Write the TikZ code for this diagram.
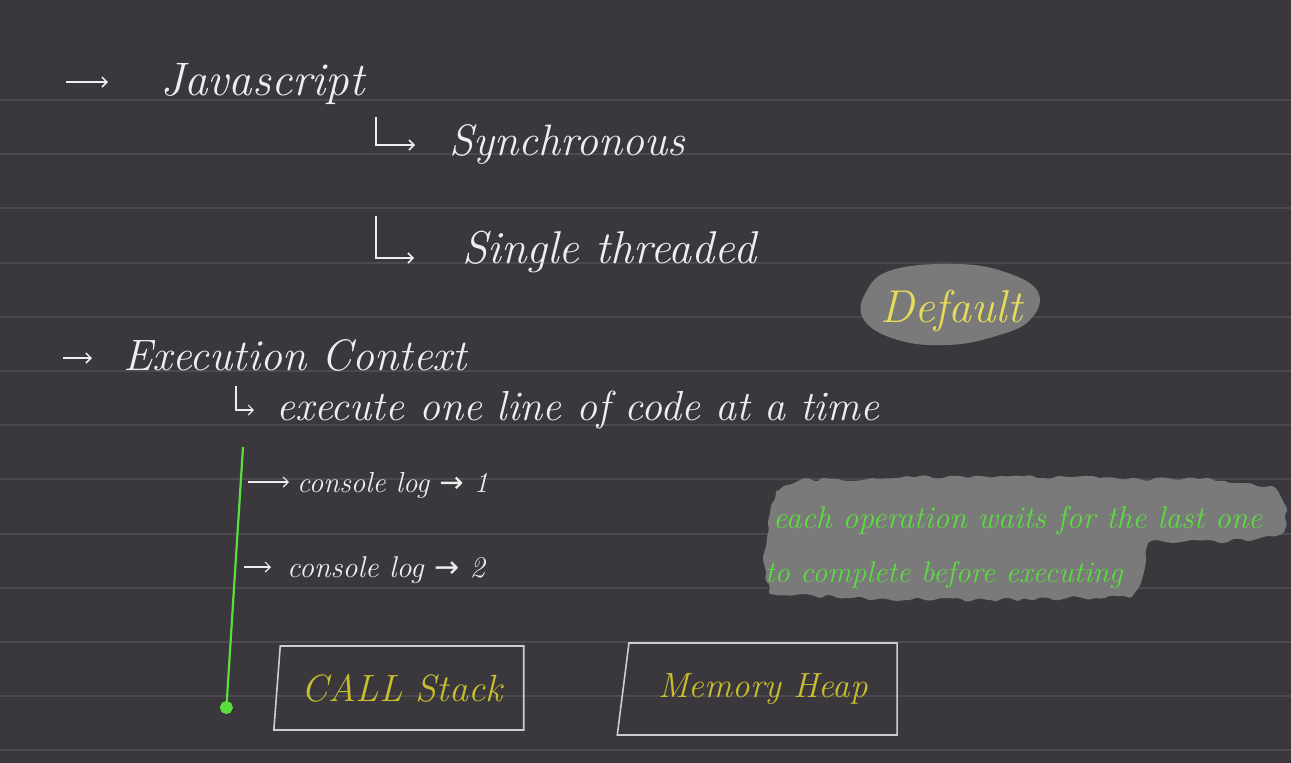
\documentclass[tikz,border=0pt]{standalone}
\usepackage{fontspec}
\newfontfamily\arrowfont{DejaVu Sans}
\definecolor{boardbg}{RGB}{58,56,60}
\definecolor{boardline}{RGB}{76,74,78}
\definecolor{chalk}{RGB}{238,238,238}
\definecolor{chalkyellow}{RGB}{230,220,90}
\definecolor{boxyellow}{RGB}{200,190,45}
\definecolor{chalkgreen}{RGB}{90,222,62}
\definecolor{smudge}{RGB}{122,122,122}
\definecolor{boxedge}{RGB}{205,205,205}
\usetikzlibrary{arrows.meta,positioning,shapes.geometric,decorations.pathmorphing}
\newcommand{\chalksize}[1]{\fontsize{#1}{#1}\selectfont}
\newcommand{\chalkarrow}{{\arrowfont\char"2192}}

\begin{document}
\begin{tikzpicture}[x=1pt, y=-1pt,
    note/.style={anchor=base west, inner sep=0pt, text=chalk, font=\itshape},
    hand/.style={-{Straight Barb[length=5pt,width=10pt]}, line width=1.5pt, chalk},
    flow/.style={-{Circle[length=13pt]}, line width=2.2pt, chalkgreen},
    codebox/.style={trapezium, trapezium stretches=true, trapezium right angle=90,
      draw=boxedge, line width=1.6pt, text=boxyellow, font=\itshape\chalksize{35}},
    blob/.style={fill=smudge, decorate, decoration={random steps, segment length=7pt, amplitude=2.5pt}, rounded corners=2pt},
    rule/.style={boardline, line width=2pt}
  ]
    % Board and ruling
    \fill[boardbg] (0,0) rectangle (1291,763);
    \useasboundingbox (0,0) rectangle (1291,763);
    \foreach \k in {0,...,12}
      \draw[rule] (0,{100+54.2*\k}) -- (1291,{100+54.2*\k});

    % Highlight smudges
    \fill[smudge] plot[smooth cycle, tension=0.7] coordinates {(866,292) (892,270) (955,264) (1005,272) (1038,292) (1030,320) (996,336) (948,345) (898,340) (864,320)};
    \path[blob] (776,492) -- (800,480) -- (1000,476) -- (1200,479) -- (1272,486) -- (1287,508) -- (1284,532)
      -- (1250,541) -- (1150,541) -- (1144,572) -- (1132,597) -- (990,600) -- (850,598) -- (770,594) -- (763,560) -- (768,522) -- cycle;

    % Javascript
    \node[note, font=\itshape\chalksize{47}] (js) at (160,95) {Javascript};
    \node[note, font=\itshape\chalksize{44}] (syn) at (449,155) {Synchronous};
    \node[note, font=\itshape\chalksize{46}] (sgl) at (462,263) {Single threaded};
    \node[note, text=chalkyellow, font=\itshape\chalksize{46}] (dflt) at (880,322) {Default};
    \coordinate (b1) at (66,82);
    \coordinate (h1) at (376,117);
    \coordinate (h2) at (376,216);
    \draw[hand] (b1) -- (b1 -| js.west) [shorten >=52pt];
    \draw[hand, shorten >=34pt] (h1) |- (h1 |- 0,145) -- (syn.west |- 0,145);
    \draw[hand, shorten >=48pt] (h2) |- (h2 |- 0,258) -- (sgl.west |- 0,258);

    % Execution Context
    \node[note, font=\itshape\chalksize{44}] (exc) at (123,370) {Execution Context};
    \node[note, font=\itshape\chalksize{42}] (one) at (276,420) {execute one line of code at a time};
    \coordinate (b2) at (63,358);
    \coordinate (h3) at (236,386);
    \draw[hand, shorten >=31pt] (b2) -- (b2 -| exc.west);
    \draw[hand, line width=1.2pt, shorten >=22pt] (h3) |- (h3 |- 0,410) -- (one.west |- 0,410);

    % Order of execution
    \coordinate (flowtop) at (243,447);
    \coordinate (flowend) at (226,714);
    \draw[flow] (flowtop) -- (flowend);
    \node[note, font=\itshape\chalksize{29}] (log1) at (297,492) {console log \chalkarrow\ 1};
    \node[note, font=\itshape\chalksize{30}] (log2) at (287,577) {console log \chalkarrow\ 2};
    \coordinate (c1) at (248,482);
    \coordinate (c2) at (244,567);
    \draw[hand, line width=1.2pt, shorten >=8pt] (c1) -- (c1 -| log1.west);
    \draw[hand, line width=1.2pt, shorten >=16pt] (c2) -- (c2 -| log2.west);

    % Note on blocking
    \node[note, text=chalkgreen, font=\itshape\chalksize{31.5}] (wait1) at (773,528) {each operation waits for the last one};
    \node[note, text=chalkgreen, font=\itshape\chalksize{30}] (wait2) at (765,582) {to complete before executing};

    % Runtime parts
    \node[codebox, font=\itshape\chalksize{38}, trapezium left angle=81, minimum width=250pt, minimum height=84pt] (stack) at (402,688) {CALL Stack};
    \node[codebox, trapezium left angle=76, minimum width=280pt, minimum height=92pt] (heap) at (763,689) {Memory Heap};
  \end{tikzpicture}
\end{document}
